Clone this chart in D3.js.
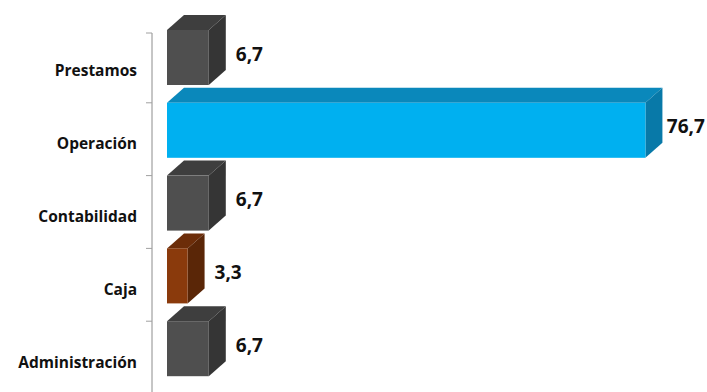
<!DOCTYPE html>
<html>
<head>
<meta charset="utf-8">
<script src="https://cdn.jsdelivr.net/npm/d3@7"></script>
<style>
  html, body { margin: 0; padding: 0; background: #ffffff; }
  svg { display: block; }
</style>
</head>
<body>
<svg id="chart" width="707" height="392"></svg>
<script>
// Areas and their share (%)
const categories = ["Prestamos", "Operación", "Contabilidad", "Caja", "Administración"];
const values = [6.7, 76.7, 6.7, 3.3, 6.7];
const valueLabels = ["6,7", "76,7", "6,7", "3,3", "6,7"];

// Face colours (front, top, side) for each bar
const shades = {
  gray:  { front: "#4f4f4f", top: "#3e3e3e", side: "#353535" },
  blue:  { front: "#00b0f0", top: "#0a88bb", side: "#0879a8" },
  brown: { front: "#8a3a0c", top: "#6c2d09", side: "#5a2607" }
};
const barShade = ["gray", "blue", "gray", "brown", "gray"];

const W = 707;
const svg = d3.select("#chart");

const x = d3.scaleLinear().domain([0, 80]).range([167, 666]);
const y = d3.scaleBand().domain(categories).range([30, 394]);

const depthX = 17, depthY = 15, faceH = 55;
const axisX = 152;

// Vertical axis with ticks at the band boundaries
const axisG = svg.append("g");
axisG.append("line")
  .attr("x1", axisX).attr("x2", axisX)
  .attr("y1", y(categories[0]) + 3).attr("y2", 392)
  .attr("stroke", "#8c8c8c").attr("stroke-width", 1);
const boundaries = categories.map(c => y(c) + (c === categories[0] ? 3 : 0));
axisG.selectAll("line.tick").data(boundaries).join("line")
  .attr("class", "tick")
  .attr("x1", axisX - 6).attr("x2", axisX)
  .attr("y1", d => d).attr("y2", d => d)
  .attr("stroke", "#a0a0a0").attr("stroke-width", 1);

// Category labels
svg.append("g").selectAll("text").data(categories).join("text")
  .attr("x", 137)
  .attr("y", d => y(d) + y.bandwidth() / 2 + 4)
  .attr("text-anchor", "end")
  .attr("dominant-baseline", "central")
  .attr("font-family", "'Open Sans', sans-serif")
  .attr("font-weight", 700)
  .attr("font-size", 15.5)
  .attr("fill", "#111")
  .text(d => d);

// 3D bars
const data = categories.map((c, i) => ({ c, v: values[i], label: valueLabels[i], s: shades[barShade[i]] }));
const bars = svg.append("g").selectAll("g.bar").data(data).join("g").attr("class", "bar");

bars.append("polygon") // top face
  .attr("points", d => {
    const x0 = x(0), x1 = x(d.v), y0 = y(d.c);
    return [[x0, y0], [x0 + depthX, y0 - depthY], [x1 + depthX, y0 - depthY], [x1, y0]].join(" ");
  })
  .attr("fill", d => d.s.top);

bars.append("polygon") // side face
  .attr("points", d => {
    const x1 = x(d.v), y0 = y(d.c), y1 = y0 + faceH;
    return [[x1, y0], [x1 + depthX, y0 - depthY], [x1 + depthX, y1 - depthY], [x1, y1]].join(" ");
  })
  .attr("fill", d => d.s.side);

bars.append("rect") // front face
  .attr("x", x(0))
  .attr("y", d => y(d.c))
  .attr("width", d => x(d.v) - x(0))
  .attr("height", faceH)
  .attr("fill", d => d.s.front);

// Value labels, kept inside the right edge
bars.append("text")
  .attr("x", d => x(d.v) + depthX + 10)
  .attr("y", d => y(d.c) + faceH / 2 - 4)
  .attr("dominant-baseline", "central")
  .attr("font-family", "'Open Sans', sans-serif")
  .attr("font-weight", 700)
  .attr("font-size", 19)
  .attr("fill", "#111")
  .text(d => d.label)
  .each(function () {
    const b = this.getBBox();
    const over = b.x + b.width - (W - 2);
    if (over > 0) d3.select(this).attr("x", b.x - over);
  });
</script>
</body>
</html>
